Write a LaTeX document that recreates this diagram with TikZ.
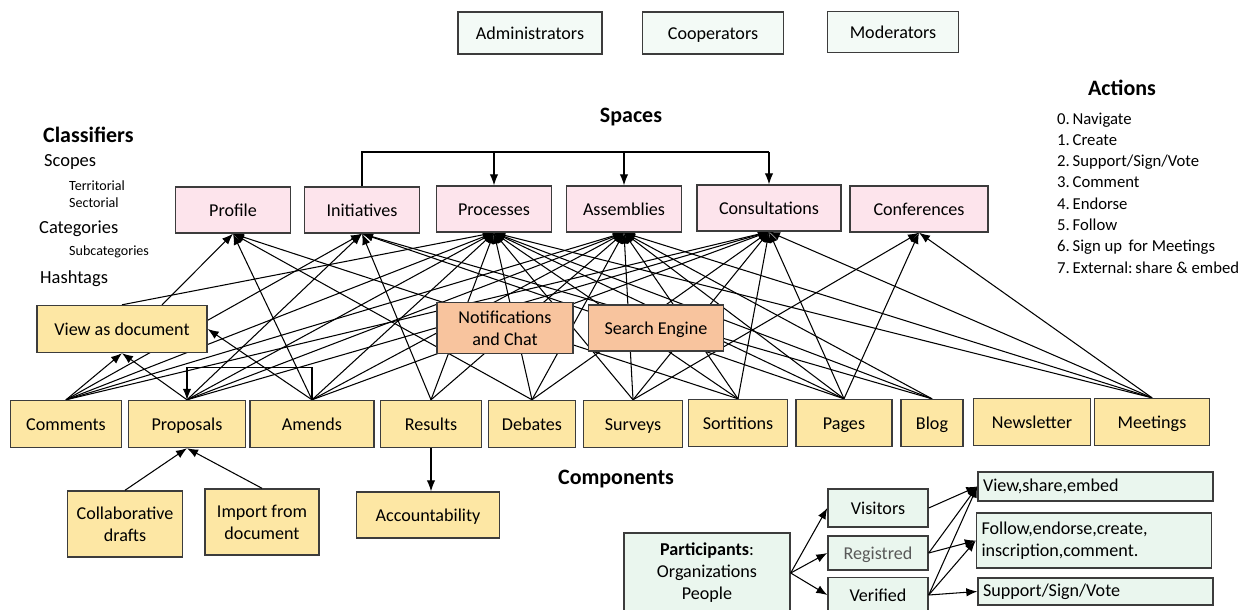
\documentclass[tikz,border=0pt]{standalone}
\usepackage{fontspec}
\setmainfont{Carlito}
\usetikzlibrary{arrows.meta,backgrounds}

\definecolor{rolefill}{RGB}{243,250,246}
\definecolor{spacefill}{RGB}{253,228,236}
\definecolor{compfill}{RGB}{253,231,164}
\definecolor{toolfill}{RGB}{248,196,158}
\definecolor{partfill}{RGB}{234,246,238}
\definecolor{boxline}{RGB}{60,60,60}

\tikzset{
  box/.style={draw=boxline, line width=0.8pt, minimum height=0.92cm, inner sep=2pt,
    font=\fontsize{10.3}{12.5}\selectfont, align=center},
  oneline/.style={text height=1.8ex, text depth=0.35ex},
  rolebox/.style={box, oneline, fill=rolefill},
  spacebox/.style={box, oneline, fill=spacefill, minimum width=2.3cm},
  compbox/.style={box, oneline, fill=compfill},
  compmulti/.style={box, fill=compfill},
  toolbox/.style={box, fill=toolfill},
  partbox/.style={box, oneline, fill=partfill, minimum width=2cm},
  actbox/.style={box, fill=partfill, align=left, text width=4.5cm, inner xsep=0.1cm},
  heading/.style={font=\fontsize{12.5}{15}\selectfont\bfseries},
  item/.style={anchor=west, font=\fontsize{10.5}{12}\selectfont},
  subitem/.style={anchor=west, font=\fontsize{8}{10}\selectfont},
  edge/.style={line width=0.6pt, -{Latex[length=2.2mm,width=1.7mm]}},
}

\begin{document}
\begin{tikzpicture}
    \useasboundingbox (0,0) rectangle (25.18,12.18);

    % Roles
    \node[rolebox, minimum width=2.88cm, minimum height=0.84cm] (admin) at (10.6,11.52) {Administrators};
    \node[rolebox, minimum width=2.82cm, minimum height=0.84cm] (coop) at (14.26,11.52) {Cooperators};
    \node[rolebox, minimum width=2.62cm, minimum height=0.82cm] (moder) at (17.86,11.54) {Moderators};

    % Actions
    \node[heading] (actions) at (22.44,10.42) {Actions};
    \node[anchor=north west, align=left, font=\fontsize{9.5}{12.1}\selectfont] (actlist) at (21.02,10.05)
        {0.\,Navigate\\1.\,Create\\2.\,Support/Sign/Vote\\3.\,Comment\\4.\,Endorse\\5.\,Follow\\6.\,Sign up\, for Meetings\\7.\,External:\,share \& embed};

    % Classifiers
    \node[heading, anchor=west] (classifiers) at (0.74,9.48) {Classifiers};
    \node[item] (scopes) at (0.76,8.94) {Scopes};
    \node[subitem] (territorial) at (1.26,8.46) {Territorial};
    \node[subitem] (sectorial) at (1.26,8.12) {Sectorial};
    \node[item] (categories) at (0.66,7.6) {Categories};
    \node[subitem] (subcategories) at (1.26,7.14) {Subcategories};
    \node[item] (hashtags) at (0.68,6.6) {Hashtags};

    % Spaces
    \node[heading] (spaces) at (12.62,9.84) {Spaces};
    \node[spacebox] (profile) at (4.66,7.98) {Profile};
    \node[spacebox] (initiatives) at (7.24,7.98) {Initiatives};
    \node[spacebox] (processes) at (9.88,8.0) {Processes};
    \node[spacebox] (assemblies) at (12.48,8.0) {Assemblies};
    \node[spacebox, minimum width=2.88cm] (consultations) at (15.38,8.02) {Consultations};
    \node[spacebox, minimum width=2.76cm] (conferences) at (18.38,8.0) {Conferences};

    \coordinate (busleft) at (7.24,9.14);
    \coordinate (busright) at (15.38,9.14);
    \draw[line width=0.6pt] (initiatives.north) -- (busleft) -- (busright);
    \draw[edge] (busright) -- (consultations.north);
    \draw[edge] (processes.north |- busleft) -- (processes.north);
    \draw[edge] (assemblies.north |- busleft) -- (assemblies.north);

    % Tools
    \node[compbox, minimum width=3.4cm, minimum height=0.94cm] (viewdoc) at (2.44,5.6) {View as document};
    \node[toolbox, minimum width=2.72cm, minimum height=1.02cm] (notif) at (10.1,5.62) {Notifications\\and Chat};
    \node[toolbox, oneline, minimum width=2.7cm] (search) at (13.12,5.62) {Search Engine};

    % Components
    \node[compbox, minimum width=2.22cm, minimum height=0.94cm] (comments) at (1.32,3.7) {Comments};
    \node[compbox, minimum width=2.34cm, minimum height=0.94cm] (proposals) at (3.74,3.7) {Proposals};
    \node[compbox, minimum width=2.48cm, minimum height=0.94cm] (amends) at (6.24,3.7) {Amends};
    \node[compbox, minimum width=2.02cm, minimum height=0.94cm] (results) at (8.62,3.7) {Results};
    \node[compbox, minimum width=1.74cm, minimum height=0.94cm] (debates) at (10.64,3.7) {Debates};
    \node[compbox, minimum width=1.98cm, minimum height=0.94cm] (surveys) at (12.66,3.7) {Surveys};
    \node[compbox, minimum width=1.98cm, minimum height=0.94cm] (sortitions) at (14.76,3.72) {Sortitions};
    \node[compbox, minimum width=1.92cm, minimum height=0.94cm] (pages) at (16.88,3.72) {Pages};
    \node[compbox, minimum width=1.24cm, minimum height=0.94cm] (blog) at (18.64,3.72) {Blog};
    \node[compbox, minimum width=2.34cm, minimum height=0.94cm] (newsletter) at (20.64,3.74) {Newsletter};
    \node[compbox, minimum width=2.3cm, minimum height=0.94cm] (meetings) at (23.04,3.74) {Meetings};

    \node[compmulti, minimum width=2.3cm, minimum height=1.32cm] (collab) at (2.5,1.7) {Collaborative\\drafts};
    \node[compmulti, minimum width=2.28cm, minimum height=1.32cm] (import) at (5.24,1.74) {Import from\\document};
    \node[compbox, minimum width=2.86cm] (accountability) at (8.56,1.88) {Accountability};
    \node[heading] (components) at (12.32,2.6) {Components};

    % Links between spaces and components
    \begin{scope}[on background layer]
        \draw[edge] ([xshift=0.8cm]viewdoc.north) -- (profile.south);
        \foreach \src in {amends,debates,sortitions}
            \draw[edge] (\src.north) -- (profile.south);
        \foreach \src in {comments,proposals,results,pages,blog}
            \draw[edge] (\src.north) -- (initiatives.south);
        \foreach \src in {viewdoc,comments,proposals,amends,results,debates,surveys,sortitions,pages,blog,meetings}
            \draw[edge] (\src.north) -- (processes.south);
        \foreach \src in {comments,proposals,amends,results,debates,surveys,sortitions,pages,blog,meetings}
            \draw[edge] (\src.north) -- (assemblies.south);
        \foreach \src in {comments,proposals,amends,debates,surveys,sortitions,pages,meetings}
            \draw[edge] (\src.north) -- (consultations.south);
        \foreach \src in {surveys,pages,meetings}
            \draw[edge] (\src.north) -- (conferences.south);
    \end{scope}

    \draw[edge] (comments.north) -- (viewdoc.south);
    \draw[edge] (proposals.north) -- (viewdoc.south);
    \draw[edge] (amends.north) -- (viewdoc.east);
    \draw[edge] (amends.north) -- ++(0,0.64) -| (proposals.north);
    \draw[edge] (collab.north) -- (proposals.south);
    \draw[edge] (import.north) -- (proposals.south);
    \draw[edge] (results.south) -- (results.south |- accountability.north);

    % Participants
    \node[box, fill=partfill, minimum width=3.32cm, minimum height=1.6cm] (participants) at (14.14,0.72)
        {\textbf{Participants}:\\Organizations\\People};
    \node[partbox, minimum height=0.76cm] (visitors) at (17.56,2.02) {Visitors};
    \node[partbox, minimum height=0.68cm, text=black!65] (registred) at (17.56,1.12) {Registred};
    \node[partbox, minimum height=0.7cm] (verified) at (17.56,0.28) {Verified};

    \node[actbox, minimum height=0.58cm] (view) at (21.91,2.45) {View,share,embed};
    \node[actbox, minimum height=1.1cm] (follow) at (21.88,1.37) {Follow,endorse,create,\\inscription,comment.};
    \node[actbox, minimum height=0.54cm] (support) at (21.91,0.35) {Support/Sign/Vote};

    \foreach \dst in {visitors,registred,verified}
        \draw[edge] (participants.east) -- (\dst.west);
    \draw[edge] (visitors.east) -- (view.west);
    \draw[edge] (registred.east) -- (view.west);
    \draw[edge] (registred.east) -- (follow.west);
    \draw[edge] (verified.east) -- (view.west);
    \draw[edge] (verified.east) -- (follow.west);
    \draw[edge] (verified.east) -- (support.west);
\end{tikzpicture}
\end{document}
